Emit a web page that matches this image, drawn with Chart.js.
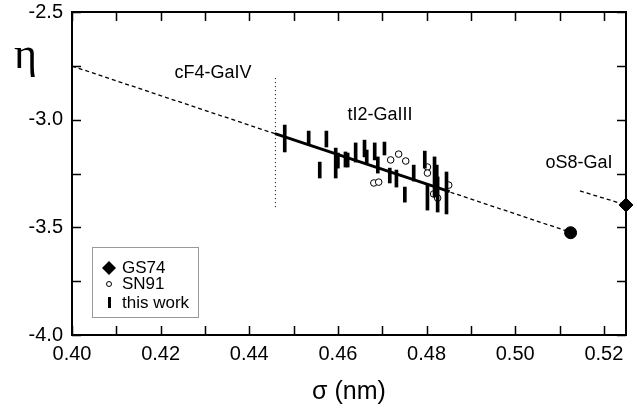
<!DOCTYPE html>
<html>
<head>
<meta charset="utf-8">
<script src="https://cdn.jsdelivr.net/npm/chart.js@4/dist/chart.umd.min.js"></script>
<style>
  html, body { margin: 0; padding: 0; background: #fff; }
  #wrap { position: relative; width: 637px; height: 410px; }
</style>
</head>
<body>
<div id="wrap"><canvas id="etaChart"></canvas></div>
<script>
const sigmaTicks = [0.40, 0.41, 0.42, 0.43, 0.44, 0.45, 0.46, 0.47, 0.48, 0.49, 0.50, 0.51, 0.52];
const etaTicks = [-4.0, -3.75, -3.5, -3.25, -3.0, -2.75, -2.5];

// this work: sigma with eta range (low/high end of each bar)
const workSigma = [0.4480, 0.4534, 0.4574, 0.4559, 0.4595, 0.4600, 0.4617, 0.4622, 0.4640, 0.4660,
                   0.4665, 0.4683, 0.4690, 0.4705, 0.4717, 0.4732, 0.4751, 0.4771, 0.4796, 0.4802,
                   0.4818, 0.4823, 0.4825, 0.4845];
const workLow  = [-3.150, -3.118, -3.127, -3.271, -3.271, -3.225, -3.220, -3.220, -3.197, -3.173,
                  -3.201, -3.187, -3.248, -3.164, -3.294, -3.313, -3.383, -3.285, -3.225, -3.420,
                  -3.359, -3.327, -3.429, -3.438];
const workHigh = [-3.025, -3.053, -3.053, -3.197, -3.132, -3.155, -3.150, -3.155, -3.108, -3.095,
                  -3.141, -3.108, -3.173, -3.104, -3.225, -3.234, -3.313, -3.211, -3.146, -3.299,
                  -3.173, -3.211, -3.266, -3.243];

// SN91
const sn91Sigma = [0.4681, 0.4692, 0.4719, 0.4737, 0.4753, 0.4802, 0.4802, 0.4816, 0.4825, 0.4850];
const sn91Eta   = [-3.294, -3.290, -3.187, -3.160, -3.192, -3.220, -3.248, -3.345, -3.364, -3.304];

// GS74
const gs74Sigma = [0.525];
const gs74Eta = [-3.396];

// trend lines
const trendSigma = [0.40, 0.5125];
const trendEta = [-2.751, -3.523];
const fitSigma = [0.4458, 0.4852];
const fitEta = [-3.065, -3.334];
const os8Sigma = [0.5146, 0.525];
const os8Eta = [-3.331, -3.396];
const boundarySigma = [0.4459, 0.4459];
const boundaryEta = [-2.807, -3.420];
const endSigma = [0.5125];
const endEta = [-3.525];

const phaseNames = ["cF4-GaIV", "tI2-GaIII", "oS8-GaI"];
const phaseSigma = [0.4318, 0.4695, 0.5144];
const phaseEta = [-2.783, -2.978, -3.201];

const FONT = "'Liberation Sans', Arial, Helvetica, sans-serif";

const pts = (xs, ys) => xs.map((x, i) => ({ x: x, y: ys[i] }));

// frame around the plot with inward tick marks on every side
const frameTicks = {
    id: "frameTicks",
    afterDatasetsDraw(chart) {
        const { ctx, chartArea: a, scales } = chart;
        ctx.save();
        ctx.strokeStyle = "#000";
        ctx.lineWidth = 1.5;
        ctx.beginPath();
        sigmaTicks.forEach(v => {
            const px = Math.round(scales.x.getPixelForValue(v)) + 0.5;
            ctx.moveTo(px, a.bottom); ctx.lineTo(px, a.bottom - 9);
            ctx.moveTo(px, a.top); ctx.lineTo(px, a.top + 9);
        });
        etaTicks.forEach(v => {
            const py = Math.round(scales.y.getPixelForValue(v)) + 0.5;
            ctx.moveTo(a.left, py); ctx.lineTo(a.left + 9, py);
            ctx.moveTo(a.right, py); ctx.lineTo(a.right - 9, py);
        });
        ctx.stroke();
        ctx.lineWidth = 2;
        ctx.strokeRect(a.left, a.top, a.right - a.left, a.bottom - a.top);
        ctx.restore();
    }
};

// phase labels, eta symbol and the legend box
const annotations = {
    id: "annotations",
    afterDraw(chart) {
        const { ctx, scales } = chart;
        ctx.save();
        ctx.fillStyle = "#000";
        ctx.textAlign = "center";
        ctx.textBaseline = "middle";
        ctx.font = "18px " + FONT;
        phaseNames.forEach((name, i) => {
            ctx.fillText(name, scales.x.getPixelForValue(phaseSigma[i]), scales.y.getPixelForValue(phaseEta[i]));
        });

        ctx.font = "44px 'Liberation Serif', 'DejaVu Serif', serif";
        ctx.textAlign = "left";
        ctx.textBaseline = "alphabetic";
        ctx.fillText("η", 14, 68);

        // legend
        const bx = 92.5, by = 247.5, bw = 106, bh = 70;
        ctx.fillStyle = "#fff";
        ctx.fillRect(bx, by, bw, bh);
        ctx.strokeStyle = "#999";
        ctx.lineWidth = 1;
        ctx.strokeRect(bx, by, bw, bh);

        ctx.fillStyle = "#000";
        ctx.beginPath();
        ctx.moveTo(109, 261); ctx.lineTo(116, 268); ctx.lineTo(109, 275); ctx.lineTo(102, 268);
        ctx.closePath();
        ctx.fill();

        ctx.beginPath();
        ctx.arc(109, 284, 2.5, 0, Math.PI * 2);
        ctx.strokeStyle = "#000";
        ctx.stroke();

        ctx.fillRect(108, 297, 3, 11);

        ctx.font = "17px " + FONT;
        ctx.textBaseline = "middle";
        ctx.fillText("GS74", 122, 268);
        ctx.fillText("SN91", 122, 284);
        ctx.fillText("this work", 122, 303);
        ctx.restore();
    }
};

new Chart(document.getElementById("etaChart"), {
    type: "scatter",
    data: {
        datasets: [
            {
                type: "line",
                data: pts(trendSigma, trendEta),
                borderColor: "#000",
                borderWidth: 1.3,
                borderDash: [4, 3],
                pointRadius: 0,
            },
            {
                type: "line",
                data: pts(os8Sigma, os8Eta),
                borderColor: "#000",
                borderWidth: 1.3,
                borderDash: [4, 3],
                pointRadius: 0,
            },
            {
                type: "line",
                data: pts(boundarySigma, boundaryEta),
                borderColor: "#000",
                borderWidth: 1,
                borderDash: [1, 3],
                pointRadius: 0,
            },
            {
                type: "line",
                data: pts(fitSigma, fitEta),
                borderColor: "#000",
                borderWidth: 2.8,
                pointRadius: 0,
            },
            {
                type: "bar",
                label: "this work",
                data: workSigma.map((s, i) => ({ x: s, y: [workLow[i], workHigh[i]] })),
                backgroundColor: "#000",
                barThickness: 3,
            },
            {
                label: "SN91",
                data: pts(sn91Sigma, sn91Eta),
                pointRadius: 3.3,
                pointBackgroundColor: "#fff",
                pointBorderColor: "#000",
                pointBorderWidth: 1,
            },
            {
                data: pts(endSigma, endEta),
                pointRadius: 6,
                pointBackgroundColor: "#000",
                pointBorderColor: "#000",
            },
            {
                label: "GS74",
                data: pts(gs74Sigma, gs74Eta),
                pointStyle: "rectRot",
                pointRadius: 7,
                pointBackgroundColor: "#000",
                pointBorderColor: "#000",
                clip: false,
            },
        ],
    },
    options: {
        responsive: true,
        maintainAspectRatio: false,
        animation: false,
        layout: { padding: { top: 12, right: 11, left: 0, bottom: 0 } },
        plugins: { legend: { display: false }, tooltip: { enabled: false } },
        scales: {
            x: {
                type: "linear",
                offset: false,
                min: 0.40,
                max: 0.525,
                afterBuildTicks: (scale) => { scale.ticks = sigmaTicks.map(v => ({ value: v })); },
                afterFit: (scale) => { scale.height = 75; scale.paddingLeft = 0; scale.paddingRight = 0; },
                grid: { display: false, drawTicks: false },
                border: { display: false },
                ticks: {
                    color: "#000",
                    font: { family: FONT, size: 20 },
                    padding: 7,
                    maxRotation: 0,
                    autoSkip: false,
                    callback: (v) => Math.abs(v * 50 - Math.round(v * 50)) < 1e-6 ? v.toFixed(2) : "",
                },
                title: {
                    display: true,
                    text: "σ (nm)",
                    color: "#000",
                    font: { family: FONT, size: 25 },
                    padding: { top: 0, bottom: 3 },
                },
            },
            y: {
                type: "linear",
                min: -4.0,
                max: -2.5,
                afterBuildTicks: (scale) => { scale.ticks = etaTicks.map(v => ({ value: v })); },
                afterFit: (scale) => { scale.width = 72; scale.paddingTop = 0; scale.paddingBottom = 0; },
                grid: { display: false, drawTicks: false },
                border: { display: false },
                ticks: {
                    color: "#000",
                    font: { family: FONT, size: 20 },
                    padding: 9,
                    autoSkip: false,
                    callback: (v) => Math.abs(v * 2 - Math.round(v * 2)) < 1e-6 ? v.toFixed(1) : "",
                },
            },
        },
    },
    plugins: [frameTicks, annotations],
});
</script>
</body>
</html>
